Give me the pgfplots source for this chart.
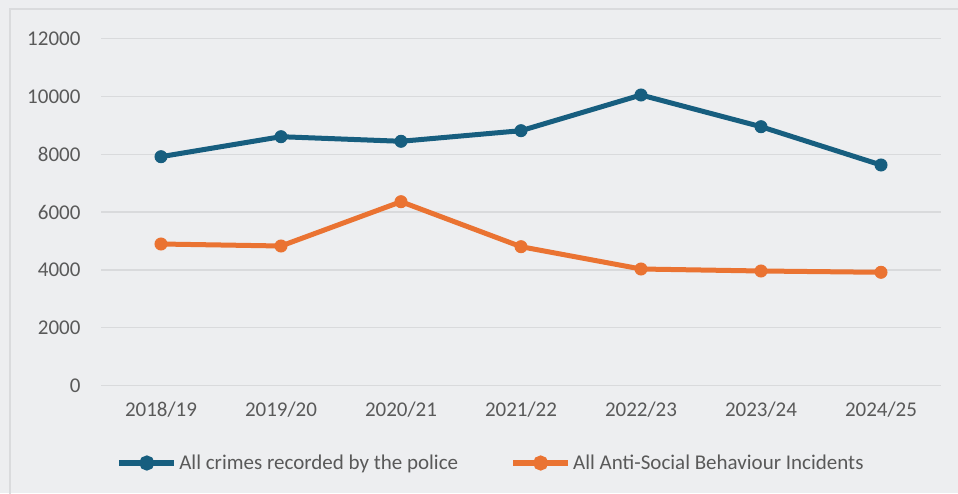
\documentclass[border=0pt]{standalone}
\usepackage{fontspec}
\setmainfont{Carlito}
\usepackage{pgfplots}
\pgfplotsset{compat=1.18}
\definecolor{bg}{RGB}{237,238,240}
\definecolor{frame}{RGB}{218,219,221}
\definecolor{gridc}{RGB}{217,218,220}
\definecolor{txt}{RGB}{89,89,89}
\definecolor{cblue}{RGB}{23,94,127}
\definecolor{corange}{RGB}{234,115,50}
\begin{document}
\begin{tikzpicture}[x=1pt,y=1pt]
\useasboundingbox (0,0) rectangle (958,493);
\fill[bg] (0,0) rectangle (958,493);
\draw[frame, line width=1.2pt] (10,-5) -- (10,484) -- (963,484);
\begin{axis}[
  at={(101pt,107.5pt)}, anchor=south west,
  scale only axis, width=840pt, height=346.8pt,
  xmin=-0.5, xmax=6.5, ymin=0, ymax=12000,
  xtick={0,...,6},
  xticklabels={2018/19,2019/20,2020/21,2021/22,2022/23,2023/24,2024/25},
  ytick={0,2000,...,12000},
  axis line style={draw=none},
  major tick length=0pt,
  ymajorgrids, grid style={gridc, line width=1.5pt},
  font=\fontsize{21}{24}\selectfont,
  tick label style={txt},
  /pgf/number format/assume math mode=true,
  /pgf/number format/set thousands separator={},
  scaled y ticks=false,
  every y tick label/.append style={anchor=east, xshift=-17pt},
  every x tick label/.append style={yshift=-13pt},
  legend style={at={(0.0180,-0.2235)}, anchor=west, draw=none, fill=none,
    text=txt, font=\fontsize{21}{24}\selectfont, inner sep=0pt,
    legend columns=2,
    /tikz/every even column/.append style={column sep=50pt}},
  legend cell align=left,
  legend image code/.code={\draw[line width=6pt] (0pt,0pt) -- (55pt,0pt); \fill (27.5pt,0pt) circle (5pt);},
]
\addplot[cblue, line width=5pt, mark=*, mark size=6pt, mark options={solid, line width=1pt}]
  coordinates {(0,7917) (1,8609) (2,8450) (3,8817) (4,10052) (5,8955) (6,7630)};
\addlegendentry{All crimes recorded by the police}
\addplot[corange, line width=5pt, mark=*, mark size=6pt, mark options={solid, line width=1pt}]
  coordinates {(0,4896) (1,4827) (2,6360) (3,4803) (4,4031) (5,3962) (6,3917)};
\addlegendentry{All Anti-Social Behaviour Incidents}
\end{axis}
\end{tikzpicture}
\end{document}
